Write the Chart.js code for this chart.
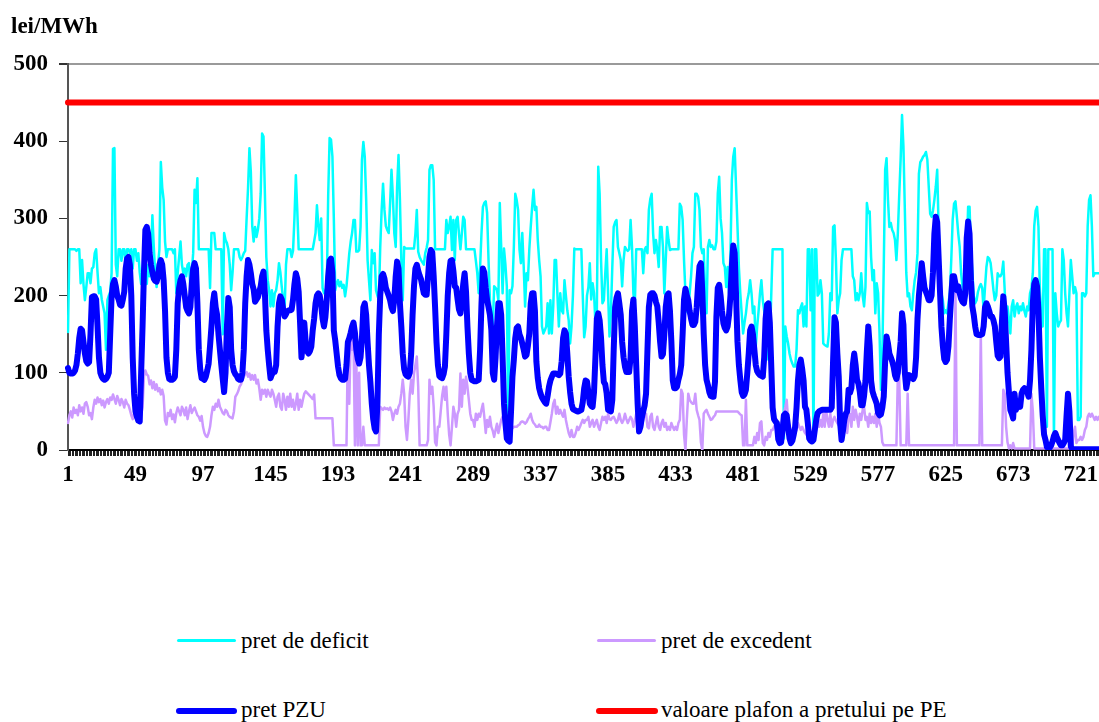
<!DOCTYPE html>
<html>
<head>
<meta charset="utf-8">
<script src="https://cdn.jsdelivr.net/npm/chart.js@4.4.1/dist/chart.umd.min.js"></script>
<style>
  html, body { margin: 0; padding: 0; background: #fff; overflow: hidden; }
  body { width: 1099px; height: 722px; position: relative; font-family: "Liberation Serif", "Times New Roman", serif; color: #000; }
  #wrap { position: absolute; left: 0; top: 0; width: 1125px; height: 500px; }
  .unit { position: absolute; left: 11px; top: 14px; font-size: 23px; line-height: 23px; font-weight: bold; }
  .lg-line { position: absolute; border-radius: 3px; }
  .lg-text { position: absolute; font-size: 23px; line-height: 23px; white-space: nowrap; }
</style>
</head>
<body>
<div id="wrap"><canvas id="chart" width="1125" height="500"></canvas></div>
<div class="unit">lei/MWh</div>
<div id="legend"></div>
<script>
// hourly values, one row per day (24 h)
const pretDeficit = [
  153,260,260,260,260,260,258,260,260,216,246,215,194,211,229,229,216,235,237,255,260,230,203,211,
  195,186,177,130,194,200,205,229,390,391,240,225,260,260,245,260,260,240,260,260,255,260,235,260,
  260,245,255,230,215,225,210,230,215,240,225,250,304,263,230,211,240,260,373,340,324,270,250,260,
  260,260,260,255,260,203,229,250,270,240,229,235,225,240,242,211,230,255,337,320,352,260,260,260,
  260,260,260,260,260,210,281,281,281,260,260,260,260,260,150,281,272,268,260,240,207,230,260,260,
  260,260,250,246,250,255,258,300,339,391,360,290,270,289,276,285,300,332,410,406,332,250,220,207,
  186,207,186,203,207,220,242,230,211,194,181,240,260,260,260,250,258,300,356,311,260,260,260,260,
  260,260,260,260,260,260,260,270,281,317,290,272,300,210,203,205,212,330,404,402,380,300,207,215,
  220,212,218,210,214,199,212,233,255,270,281,298,298,257,257,259,289,376,399,380,324,246,220,194,
  259,242,255,207,200,194,263,311,345,311,290,285,281,319,363,328,281,263,341,382,324,246,194,263,
  261,261,261,261,261,261,261,280,311,257,250,246,243,240,255,262,272,363,369,369,350,260,260,260,
  260,260,260,260,260,298,281,290,302,259,298,246,298,302,280,260,280,302,298,260,260,260,260,260,
  260,260,245,229,203,237,281,315,320,322,307,246,194,164,160,212,210,207,194,320,263,203,261,240,
  212,26,207,203,212,263,332,324,311,260,242,281,238,186,229,220,260,289,315,337,311,315,272,246,
  225,160,151,155,160,190,151,194,151,186,246,246,200,160,203,181,177,220,200,181,168,138,160,200,
  261,260,260,260,260,260,200,146,160,200,211,242,195,216,203,164,177,367,332,246,190,194,229,260,
  203,147,177,237,289,295,298,263,255,246,212,246,263,260,258,260,298,263,203,186,260,260,260,260,
  260,229,260,263,255,311,325,332,281,255,272,259,237,289,289,263,203,246,289,272,259,260,260,260,
  260,260,260,319,315,298,246,203,180,177,203,225,255,263,332,332,328,311,263,255,260,200,177,263,
  272,263,265,260,260,270,332,354,300,281,242,237,211,237,203,255,350,380,391,340,290,237,203,177,
  151,165,177,194,203,220,203,177,186,134,160,180,203,220,194,180,164,121,117,138,200,260,260,260,
  260,260,260,260,260,15,160,147,138,125,117,112,108,108,130,181,177,185,190,160,186,160,260,260,
  181,260,10,260,260,200,203,220,203,138,136,135,134,151,203,194,289,291,246,177,194,203,246,260,
  260,260,260,260,260,260,225,220,194,203,194,203,229,200,186,211,320,307,309,250,220,233,177,216,
  203,151,78,125,237,363,378,324,289,294,285,281,272,246,280,330,376,434,393,311,230,199,203,186,
  181,203,220,230,255,358,373,376,380,382,386,376,341,306,302,310,324,341,363,289,220,203,194,177,
  181,177,190,203,246,298,319,322,302,280,263,229,212,203,207,259,315,315,260,230,200,190,194,205,
  211,215,210,181,211,237,250,248,242,225,207,194,200,229,225,225,229,244,207,168,186,170,151,186,
  194,173,185,190,177,186,181,190,180,173,186,181,203,210,229,290,310,315,289,207,175,160,260,260,
  30,260,260,260,260,13,203,177,160,165,168,260,246,203,177,160,203,246,225,203,211,203,39,39,
  43,203,203,199,203,290,324,330,289,225,229,229,229,229,229,229,229,229,229,229,229,229,229,229
];

const pretExcedent = [
  35,45,50,42,55,48,52,45,58,50,55,47,60,62,56,45,48,40,55,65,60,68,62,66,
  58,64,55,62,66,60,68,65,72,66,60,70,65,58,66,62,55,65,60,58,52,45,40,48,
  42,40,38,45,45,55,95,103,98,96,85,90,80,88,78,85,76,80,72,78,70,38,33,48,
  44,52,40,46,36,48,55,50,45,56,52,45,55,40,50,58,48,52,55,50,45,43,38,44,
  30,22,18,17,22,30,45,56,52,60,56,65,56,52,48,46,52,50,45,43,42,41,50,69,
  72,76,82,85,91,95,98,101,95,99,91,97,91,97,86,91,80,65,78,73,78,69,78,73,
  69,78,73,65,56,69,73,56,52,73,65,52,69,56,73,56,65,52,60,73,52,65,56,65,
  73,76,74,72,70,68,66,72,41,41,41,41,41,41,41,41,41,41,41,41,41,6,6,6,
  6,6,6,6,6,6,6,140,60,150,130,145,6,117,6,100,6,6,30,6,6,6,6,6,
  6,6,6,6,6,6,56,54,52,55,53,54,52,55,50,39,47,52,47,56,60,73,91,73,
  30,13,39,73,91,73,99,110,121,82,6,6,6,6,6,6,13,91,73,82,56,10,6,30,
  30,50,70,82,65,82,47,20,6,30,56,47,30,47,52,99,56,91,73,95,82,65,47,39,
  39,30,47,39,47,43,52,60,43,22,39,30,43,30,25,17,26,34,22,30,39,43,39,35,
  30,32,34,30,28,30,30,30,32,33,36,37,36,34,36,40,43,47,39,35,33,30,30,33,
  30,30,28,30,30,26,26,36,47,60,65,47,56,47,52,47,43,52,39,30,22,17,26,17,
  17,22,30,26,30,35,39,35,39,39,43,30,35,39,30,35,39,30,26,35,43,39,43,35,
  47,40,39,42,43,39,35,39,47,39,35,39,47,40,35,39,43,40,30,38,47,40,35,43,
  30,39,45,47,30,28,43,47,30,26,35,43,30,26,35,39,30,35,26,30,26,35,30,26,
  30,26,35,39,78,73,20,0,40,73,65,62,60,60,73,52,45,39,10,0,47,50,52,47,
  43,39,40,43,45,50,50,50,50,50,50,50,50,50,50,50,50,50,50,50,50,48,46,45,
  6,6,65,6,6,6,6,6,17,9,22,13,35,37,9,6,17,13,22,17,26,26,30,35,
  39,35,30,26,39,48,56,65,39,30,26,22,20,22,26,35,30,26,30,26,22,20,17,17,
  17,20,22,30,35,39,30,39,30,47,30,52,39,30,47,30,39,43,38,35,32,30,35,39,
  35,30,22,43,47,30,56,39,52,43,30,47,39,52,56,39,43,30,47,35,43,35,47,30,
  47,35,30,10,6,6,6,6,6,6,6,6,6,6,95,95,6,6,6,6,6,73,6,6,
  6,6,6,6,6,6,6,6,6,6,6,6,6,6,6,6,6,6,6,6,6,6,6,6,
  6,6,6,6,6,6,6,203,6,6,6,6,6,6,6,6,6,6,6,6,6,6,6,6,
  6,151,6,6,6,6,6,6,6,6,6,6,6,6,6,6,6,78,73,30,10,2,6,2,
  9,2,2,2,2,2,2,2,2,2,2,2,2,73,50,2,2,2,2,2,2,2,2,2,
  2,2,2,2,2,2,2,2,2,2,2,2,2,2,2,2,2,2,2,22,30,9,13,13,
  17,13,17,26,30,43,47,43,47,43,39,43,39,43,40,42,40,41,40,42,40,41,40,42
];

const pretPZU = [
  106,100,99,99,100,103,110,125,145,157,155,140,125,115,112,114,150,198,199,199,195,160,120,100,
  95,92,91,92,95,100,150,199,215,220,212,200,195,188,187,195,205,235,248,250,240,200,120,73,
  50,43,38,37,100,160,230,285,289,280,255,240,230,222,219,218,225,240,246,240,220,180,120,100,
  92,91,91,92,95,130,190,210,220,225,215,200,185,180,177,185,215,235,242,235,190,130,105,93,
  92,91,95,103,112,135,160,190,203,185,175,150,130,110,92,75,100,160,197,185,130,110,102,98,
  96,92,91,91,100,130,190,225,246,240,229,215,208,192,195,198,205,212,225,231,203,155,130,110,
  93,98,101,101,110,160,190,199,195,182,173,176,180,181,181,182,195,215,229,222,205,165,120,140,
  165,140,128,125,128,134,155,170,190,200,203,200,188,170,160,172,195,225,245,248,230,155,142,125,
  108,97,93,91,91,92,110,140,145,152,160,165,152,130,118,112,120,145,185,190,175,140,110,88,
  60,40,28,24,60,150,200,225,228,222,210,205,200,194,185,180,195,225,244,235,190,160,125,105,
  98,96,95,100,125,175,212,235,240,232,226,221,212,203,201,201,225,250,259,256,225,185,140,110,
  96,94,93,98,108,150,200,229,245,246,232,212,210,195,182,177,194,215,229,205,160,125,100,91,
  90,89,89,90,91,130,190,235,230,210,194,185,175,155,100,91,120,160,190,190,175,120,60,35,
  15,12,11,50,95,117,145,158,160,150,145,138,130,121,123,135,151,190,203,203,180,115,93,80,
  73,68,65,62,60,70,82,90,95,99,99,99,98,97,99,115,145,155,151,125,95,75,60,53,
  52,51,50,50,51,52,62,80,90,89,75,60,57,56,75,120,170,177,168,145,110,88,85,73,
  52,51,50,65,130,185,197,203,190,175,140,120,108,101,101,101,120,180,195,160,110,60,24,30,
  42,50,58,73,130,185,201,203,203,200,192,186,165,140,121,124,150,185,200,203,180,140,90,80,
  80,82,91,98,110,150,195,209,200,194,180,170,162,162,166,185,215,238,242,205,150,110,91,84,
  75,70,69,69,88,172,210,214,200,180,164,158,155,160,175,200,238,265,255,200,140,110,91,75,
  70,72,78,100,125,155,160,150,130,110,102,99,97,96,95,120,170,188,190,165,110,55,40,37,
  35,14,9,10,25,45,47,45,30,15,9,12,20,30,55,90,110,117,105,90,56,52,35,15,
  12,11,13,26,39,48,50,51,52,52,52,52,52,52,52,55,117,172,165,125,95,35,13,25,
  39,47,50,78,74,80,110,125,110,91,86,75,58,58,70,90,128,160,135,90,76,70,65,60,
  48,45,46,55,69,115,147,138,125,120,115,108,97,92,100,120,140,177,162,100,80,90,97,96,
  95,92,96,120,170,200,220,242,225,210,205,200,194,194,200,230,280,302,295,250,205,160,135,118,
  114,117,134,170,200,225,225,215,207,212,203,196,192,190,203,275,296,280,220,186,175,160,150,149,
  149,149,150,160,185,190,186,180,173,173,168,160,140,122,119,121,165,199,180,140,100,75,52,47,
  41,73,52,60,60,56,73,78,80,78,75,69,90,130,190,215,220,212,180,120,80,45,20,13,
  4,2,3,6,11,18,22,17,13,9,6,6,9,13,45,73,50,5,1,1,1,1,1,1,
  1,1,1,1,1,1,1,1,1,1,1,1,1,1,1,1,1,1,1,1,1,1,1,1
];

const plafonPE = 450;  // constant price cap
const tickLabels = ['1','49','97','145','193','241','289','337','385','433','481','529','577','625','673','721'];
const yTicks = [0, 100, 200, 300, 400, 500];

const hours = [];
for (let h = 1; h <= pretPZU.length; h++) hours.push(String(h));

const C_DEF = '#00ffff', C_EXC = '#cc99ff', C_PZU = '#0000ff', C_CAP = '#ff0000';
const NAMES = ['pret de deficit', 'pret de excedent', 'pret PZU', 'valoare plafon a pretului pe PE'];

Chart.defaults.font.family = '"Liberation Serif", "Times New Roman", serif';
Chart.defaults.color = '#000';

const line = (label, data, color, width, order) => ({
  label, data, borderColor: color, backgroundColor: color, borderWidth: width,
  pointRadius: 0, tension: 0, order, borderJoinStyle: 'round', borderCapStyle: 'round', fill: false
});

new Chart(document.getElementById('chart'), {
  type: 'line',
  data: {
    labels: hours,
    datasets: [
      line(NAMES[3], [{ x: hours[0], y: plafonPE }, { x: hours[hours.length - 1], y: plafonPE }], C_CAP, 6, 0),
      line(NAMES[2], pretPZU, C_PZU, 6, 1),
      line(NAMES[1], pretExcedent, C_EXC, 2.5, 2),
      line(NAMES[0], pretDeficit, C_DEF, 2.5, 3)
    ]
  },
  options: {
    responsive: false,
    animation: false,
    devicePixelRatio: 1,
    layout: { padding: { top: 64, right: 12, bottom: 0, left: 0 } },
    plugins: { legend: { display: false }, tooltip: { enabled: false } },
    scales: {
      x: {
        afterFit: s => { s.height = 50; },
        border: { color: '#000', width: 2 },
        grid: { drawOnChartArea: false, drawTicks: true, tickLength: 6, color: '#222', lineWidth: 1 },
        ticks: {
          autoSkip: false, maxRotation: 0, minRotation: 0, padding: 5,
          font: { size: 23, weight: 'bold' }, color: '#000',
          callback: function (v) {
            const lab = this.getLabelForValue(v);
            return tickLabels.includes(lab) ? lab : '';
          }
        }
      },
      y: {
        min: yTicks[0], max: yTicks[yTicks.length - 1],
        afterFit: s => { s.width = 68; },
        border: { color: '#555', width: 2 },
        grid: {
          drawTicks: true, tickLength: 9, tickColor: '#333',
          color: ctx => (ctx.tick && ctx.tick.value === 500) ? '#9a9a9a' : 'rgba(0,0,0,0)',
          lineWidth: ctx => (ctx.tick && ctx.tick.value === 500) ? 2 : 1
        },
        ticks: { stepSize: 100, padding: 11, font: { size: 23, weight: 'bold' }, color: '#000' }
      }
    }
  }
});

// legend in two columns, two rows
const legendItems = [
  { name: NAMES[0], color: C_DEF, h: 3, x1: 177, x2: 236, y: 640.5, tx: 241, ty: 629 },
  { name: NAMES[1], color: C_EXC, h: 3, x1: 597, x2: 656, y: 640.5, tx: 661, ty: 629 },
  { name: NAMES[2], color: C_PZU, h: 6, x1: 176, x2: 237, y: 710.5, tx: 241, ty: 697.5 },
  { name: NAMES[3], color: C_CAP, h: 6, x1: 596, x2: 658, y: 710.5, tx: 661, ty: 697.5 }
];
const lg = document.getElementById('legend');
legendItems.forEach(it => {
  const sw = document.createElement('div');
  sw.className = 'lg-line';
  sw.style.cssText = `left:${it.x1}px;top:${it.y - it.h / 2}px;width:${it.x2 - it.x1}px;height:${it.h}px;background:${it.color}`;
  const tx = document.createElement('div');
  tx.className = 'lg-text';
  tx.style.cssText = `left:${it.tx}px;top:${it.ty}px`;
  tx.textContent = it.name;
  lg.appendChild(sw); lg.appendChild(tx);
});
</script>
</body>
</html>
